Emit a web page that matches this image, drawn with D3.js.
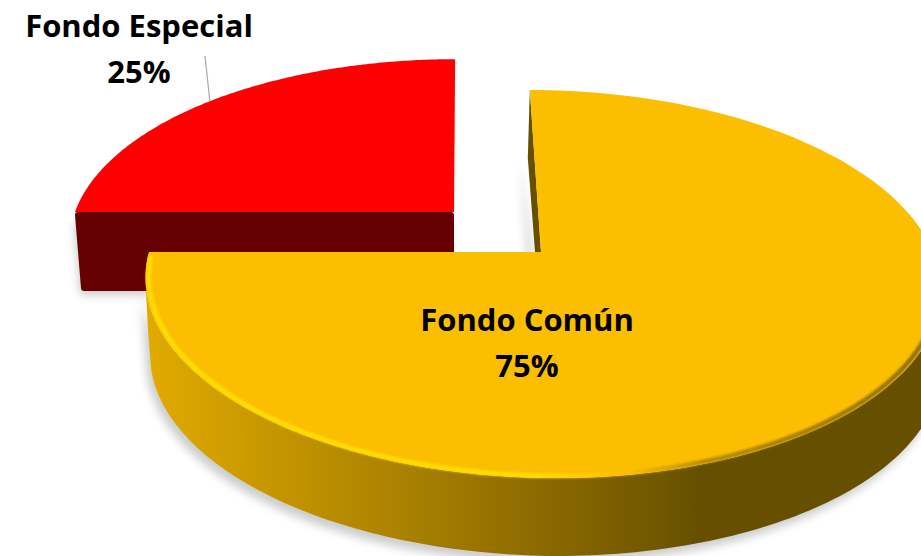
<!DOCTYPE html>
<html><head><meta charset="utf-8">
<script src="https://cdnjs.cloudflare.com/ajax/libs/d3/7.8.5/d3.min.js"></script>
<style>html,body{margin:0;padding:0;background:#fff;overflow:hidden}svg{display:block}text{font-family:"Open Sans",sans-serif;font-weight:700;fill:#000;text-anchor:middle}</style>
</head><body><svg id="c" width="921" height="556"></svg>
<script>
const categories = ["Fondo Común", "Fondo Especial"];
const shares = [75, 25];
const shareLabels = ["75%", "25%"];

const W = 921, H = 556;
const svg = d3.select("#c").attr("viewBox", [0, 0, W, H]);
const defs = svg.append("defs");

const tilt = 0.165, vanishX = 462;
const layout = [
  {cx: 541, cy: 252, rx: 392, ry: 188.7, depth: 78, colour: "#fcbe00", wall: "#665000"},
  {cx: 454, cy: 212, rx: 379, ry: 178, depth: 79, colour: "#ff0000", wall: "#660000"}
];
const pie = d3.pie().sort(null).startAngle(0).endAngle(2 * Math.PI);
const arcs = pie(shares);

function project(g, angle, radius = 1, dy = 0, shrink = 1) {
  const u = Math.sin(angle) * radius, v = -Math.cos(angle) * radius, w = 1 - tilt * v;
  const shear = tilt * (g.cx - vanishX);
  return [g.cx + (g.rx * shrink * u + shear * v) / w, g.cy + g.ry * shrink * v / w + dy];
}
const line = d3.line();
function samples(a0, a1, n = 160) {
  return d3.range(n + 1).map(i => a0 + (a1 - a0) * i / n);
}
function topPath(g, a) {
  return line([[g.cx, g.cy], ...samples(a.startAngle, a.endAngle).map(t => project(g, t))]) + "Z";
}

function blur(id, s) {
  defs.append("filter").attr("id", id).attr("x", "-10%").attr("y", "-10%").attr("width", "120%").attr("height", "120%")
    .append("feGaussianBlur").attr("stdDeviation", s);
}
blur("sh", 5); blur("soft", 1.3);
const wallGrad = defs.append("linearGradient").attr("id", "wallGrad").attr("gradientUnits", "userSpaceOnUse")
  .attr("x1", 150).attr("x2", 700).attr("y1", 0).attr("y2", 0);
[[0, "#e0aa00"], [0.45, "#ab8200"], [0.72, "#8b6900"], [1, "#665000"]].forEach(([o, c]) =>
  wallGrad.append("stop").attr("offset", o).attr("stop-color", c));
const rimGrad = defs.append("linearGradient").attr("id", "rimGrad").attr("gradientUnits", "userSpaceOnUse")
  .attr("x1", 150).attr("x2", 921).attr("y1", 0).attr("y2", 0);
[[0, "#ffde00"], [0.5, "#ffde00"], [0.62, "#fcbe00"], [0.72, "#b58c00"], [1, "#8f6f00"]].forEach(([o, c]) =>
  rimGrad.append("stop").attr("offset", o).attr("stop-color", c));

const [gold, red] = layout, [goldArc, redArc] = arcs;

// Yellow outer wall outline: top rim forward, down the left side, lower rim back
const wallAngles = samples(Math.PI * 0.5, goldArc.endAngle);
const lowerAngles = samples(Math.PI * 0.5, Math.PI * 1.452);
const goldCorner = project(gold, goldArc.endAngle);
const wallPts = [...wallAngles.map(t => project(gold, t)),
  [goldCorner[0] - 3, goldCorner[1] + 40], [goldCorner[0] - 1, goldCorner[1] + 78],
  ...lowerAngles.slice().reverse().map(t => project(gold, t, 1, gold.depth, 1 - 0.012 * Math.max(0, Math.cos(t - Math.PI * 1.5))))];

// Red front wall, inset so that a round-joined stroke gives soft corners
const redLeft = project(red, redArc.startAngle), inset = 3;
const redWallPts = [[redLeft[0] + inset, red.cy + inset], [red.cx - inset, red.cy + inset],
  [red.cx - inset, red.cy + red.depth - inset], [redLeft[0] + 6 + inset, red.cy + red.depth - inset]];

// Cut wall of the yellow slice
const goldTopPt = project(gold, goldArc.startAngle);
const cutPts = [goldTopPt, [goldTopPt[0] - 2, goldTopPt[1] + 68], [gold.cx, gold.cy + gold.depth], [gold.cx, gold.cy]];

// Shadows
const shadows = svg.append("g").attr("filter", "url(#sh)").attr("fill", "#000").attr("opacity", 0.2);
shadows.append("path").attr("d", line(redWallPts.map(p => [p[0] - 4, p[1] + 7])) + "Z");
shadows.append("path").attr("d", line(wallPts.map(p => [p[0] - 4, p[1] + 7])) + "Z");
shadows.append("path").attr("d", line(cutPts.slice(1).map(p => [p[0] - 8, p[1]])) + "Z");

// Red slice
svg.append("path").attr("d", line(redWallPts) + "Z").attr("fill", red.wall)
  .attr("stroke", red.wall).attr("stroke-width", inset * 2).attr("stroke-linejoin", "round");
svg.append("path").attr("d", topPath(red, redArc)).attr("fill", red.colour);

// Yellow slice
svg.append("path").attr("d", line(cutPts) + "Z").attr("fill", gold.wall);
svg.append("path").attr("d", line(wallPts) + "Z").attr("fill", "url(#wallGrad)");
svg.append("path").attr("d", topPath(gold, goldArc)).attr("fill", gold.colour);
svg.append("path").attr("d", line(samples(Math.PI * 0.62, goldArc.endAngle - 0.02).map(t => project(gold, t, 0.992))))
  .attr("fill", "none").attr("stroke", "url(#rimGrad)").attr("stroke-width", 4.6).attr("filter", "url(#soft)");

// Leader line
const leaderEnd = project(red, redArc.startAngle + (redArc.endAngle - redArc.startAngle) * 0.488);
svg.append("line").attr("x1", 205).attr("y1", 56).attr("x2", leaderEnd[0]).attr("y2", leaderEnd[1])
  .attr("stroke", "#a6a6a6").attr("stroke-width", 1.2);

// Labels
const labelPos = [[527, 331, 377], [139, 37, 83]], labelSize = 31;
categories.forEach((c, i) => {
  svg.append("text").attr("x", labelPos[i][0]).attr("y", labelPos[i][1]).attr("font-size", labelSize).text(c);
  svg.append("text").attr("x", labelPos[i][0]).attr("y", labelPos[i][2]).attr("font-size", labelSize).text(shareLabels[i]);
});
</script></body></html>
